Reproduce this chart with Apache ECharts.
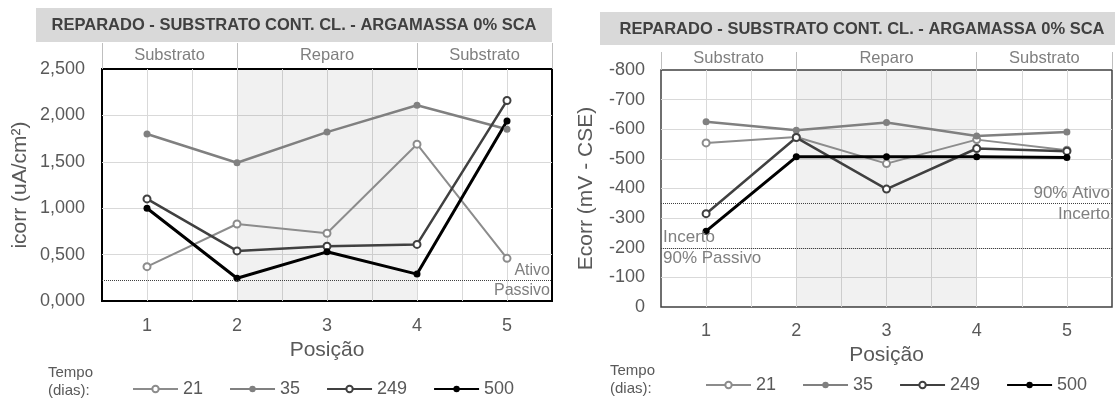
<!DOCTYPE html>
<html>
<head>
<meta charset="utf-8">
<script src="https://cdn.jsdelivr.net/npm/echarts@6/dist/echarts.min.js"></script>
<style>
  html, body { margin: 0; padding: 0; background: #fff; }
  #main { width: 1115px; height: 403px; }
</style>
</head>
<body>
<div id="main"></div>
<script>
// dados
var positions = [1, 2, 3, 4, 5];
var tempos = ['21', '35', '249', '500'];
var bandNames = ['Substrato', 'Reparo', 'Substrato'];
var bandCenters = [1.25, 3, 4.75];
var bandEdges = [0.5, 2, 4, 5.5];

var icorr21 = [0.37, 0.83, 0.73, 1.69, 0.46];
var icorr35 = [1.80, 1.49, 1.82, 2.11, 1.85];
var icorr249 = [1.10, 0.54, 0.59, 0.61, 2.16];
var icorr500 = [1.00, 0.245, 0.53, 0.29, 1.94];

var ecorr21 = [-554, -574, -484, -565, -529];
var ecorr35 = [-625, -597, -623, -577, -591];
var ecorr249 = [-315, -572, -398, -535, -526];
var ecorr500 = [-256, -507, -507, -507, -505];

var icorrLimite = 0.22;
var ecorrLimites = [-350, -200];

var titulo = 'REPARADO - SUBSTRATO CONT. CL. - ARGAMASSA 0% SCA';

var estilos = {
  '21':  { color: '#8c8c8c', symbol: 'emptyCircle', width: 2 },
  '35':  { color: '#808080', symbol: 'circle', width: 2.5 },
  '249': { color: '#404040', symbol: 'emptyCircle', width: 2.5 },
  '500': { color: '#000000', symbol: 'circle', width: 3 }
};

function pares(vals) {
  return positions.map(function (p, i) { return [p, vals[i]]; });
}

function serie(nome, vals, idx) {
  var e = estilos[nome];
  return {
    type: 'line',
    name: nome,
    xAxisIndex: idx,
    yAxisIndex: idx,
    data: pares(vals),
    symbol: e.symbol,
    symbolSize: 7,
    lineStyle: { color: e.color, width: e.width },
    itemStyle: { color: e.color },
    emphasis: { disabled: true }
  };
}

var faixa = {
  silent: true,
  itemStyle: { color: 'rgba(0,0,0,0.055)' },
  data: [[{ xAxis: 2 }, { xAxis: 4 }]]
};

function limite(y, texto, pos) {
  return { yAxis: y, label: { formatter: texto, position: pos } };
}

var linhaBase = {
  silent: true,
  symbol: 'none',
  lineStyle: { color: '#404040', type: 'dotted', width: 1 },
  label: { color: '#7f7f7f', fontSize: 16, distance: 2 }
};

var cinzaTexto = '#595959';

function eixoX(idx) {
  return {
    gridIndex: idx, type: 'value', min: 0.5, max: 5.5, interval: 0.5,
    axisLine: { show: false }, axisTick: { show: false },
    splitLine: { showMinLine: false, showMaxLine: false, lineStyle: { color: '#d9d9d9' } },
    axisLabel: {
      formatter: function (v) { return (Number.isInteger(v) && v >= 1 && v <= 5) ? String(v) : ''; },
      fontSize: 18, color: cinzaTexto, margin: idx === 0 ? 16 : 15
    },
    name: 'Posição', nameLocation: 'middle', nameGap: idx === 0 ? 31 : 33,
    nameTextStyle: { fontSize: 21, color: cinzaTexto }
  };
}

function eixoFaixa(idx, tick) {
  return {
    gridIndex: idx, type: 'value', position: 'top', min: 0.5, max: 5.5,
    axisLine: { show: false }, splitLine: { show: false },
    axisTick: { show: true, customValues: bandEdges, length: tick, lineStyle: { color: '#bfbfbf' } },
    axisLabel: {
      customValues: bandCenters,
      formatter: function (v) { return bandNames[bandCenters.indexOf(v)]; },
      fontSize: 16.5, color: '#7f7f7f', margin: idx === 0 ? 5 : 3
    }
  };
}

var series = [];
tempos.forEach(function (t) {
  var vals = { '21': icorr21, '35': icorr35, '249': icorr249, '500': icorr500 }[t];
  series.push(serie(t, vals, 0));
});
tempos.forEach(function (t) {
  var vals = { '21': ecorr21, '35': ecorr35, '249': ecorr249, '500': ecorr500 }[t];
  series.push(serie(t, vals, 1));
});
series[0].markArea = faixa;
series[0].markLine = Object.assign({}, linhaBase, {
  data: [
    limite(icorrLimite, 'Ativo', 'insideEndTop'),
    limite(icorrLimite, 'Passivo', 'insideEndBottom')
  ]
});
series[4].markArea = faixa;
series[4].markLine = Object.assign({}, linhaBase, {
  label: { color: '#7f7f7f', fontSize: 17, distance: 2 },
  data: [
    limite(ecorrLimites[0], '90% Ativo', 'insideEndTop'),
    limite(ecorrLimites[0], 'Incerto', 'insideEndBottom'),
    limite(ecorrLimites[1], 'Incerto', 'insideStartTop'),
    limite(ecorrLimites[1], '90% Passivo', 'insideStartBottom')
  ]
});

var legendaBase = {
  data: tempos, itemWidth: 45, itemHeight: 8, itemGap: 26,
  textStyle: { fontSize: 18, color: cinzaTexto }
};

var option = {
  animation: false,
  textStyle: { fontFamily: 'Liberation Sans, Arial, sans-serif' },
  graphic: [
    { type: 'rect', shape: { x: 36, y: 8, width: 516, height: 34 }, style: { fill: '#d9d9d9' } },
    { type: 'text', x: 294, y: 25, style: { text: titulo, align: 'center', verticalAlign: 'middle', font: 'bold 16.5px Liberation Sans, Arial', fill: '#404040' } },
    { type: 'rect', shape: { x: 600, y: 12, width: 520, height: 33 }, style: { fill: '#d9d9d9' } },
    { type: 'text', x: 862, y: 29, style: { text: titulo, align: 'center', verticalAlign: 'middle', font: 'bold 16.5px Liberation Sans, Arial', fill: '#404040' } },
    { type: 'text', x: 48, y: 364, style: { text: 'Tempo\n(dias):', font: '15px Liberation Sans, Arial', fill: cinzaTexto, lineHeight: 18 } },
    { type: 'text', x: 610, y: 362, style: { text: 'Tempo\n(dias):', font: '15px Liberation Sans, Arial', fill: cinzaTexto, lineHeight: 18 } }
  ],
  legend: [
    Object.assign({}, legendaBase, { left: 127, top: 375 }),
    Object.assign({}, legendaBase, { left: 700, top: 371 })
  ],
  grid: [
    { left: 102, top: 69, width: 450, height: 232, show: true, borderColor: '#000', borderWidth: 2, backgroundColor: 'transparent' },
    { left: 661, top: 70, width: 456, height: 237, show: true, borderColor: '#404040', borderWidth: 1.5, backgroundColor: 'transparent' }
  ],
  xAxis: [eixoX(0), eixoX(1), eixoFaixa(0, 26), eixoFaixa(1, 18)],
  yAxis: [
    {
      gridIndex: 0, type: 'value', min: 0, max: 2.5, interval: 0.5,
      axisLine: { show: false }, axisTick: { show: false },
      splitLine: { showMinLine: false, showMaxLine: false, lineStyle: { color: '#d9d9d9' } },
      axisLabel: {
        formatter: function (v) { return v.toFixed(3).replace('.', ','); },
        fontSize: 18, color: cinzaTexto, margin: 17
      },
      name: 'icorr (uA/cm²)', nameLocation: 'middle', nameGap: 71,
      nameTextStyle: { fontSize: 21, color: cinzaTexto }
    },
    {
      gridIndex: 1, type: 'value', min: -800, max: 0, interval: 100, inverse: true,
      axisLine: { show: false }, axisTick: { show: false },
      splitLine: { showMinLine: false, showMaxLine: false, lineStyle: { color: '#d9d9d9' } },
      axisLabel: { fontSize: 18, color: cinzaTexto, margin: 16 },
      name: 'Ecorr (mV - CSE)', nameLocation: 'middle', nameGap: 64,
      nameTextStyle: { fontSize: 21, color: cinzaTexto }
    }
  ],
  series: series
};

var chart = echarts.init(document.getElementById('main'));
chart.setOption(option);
</script>
</body>
</html>
